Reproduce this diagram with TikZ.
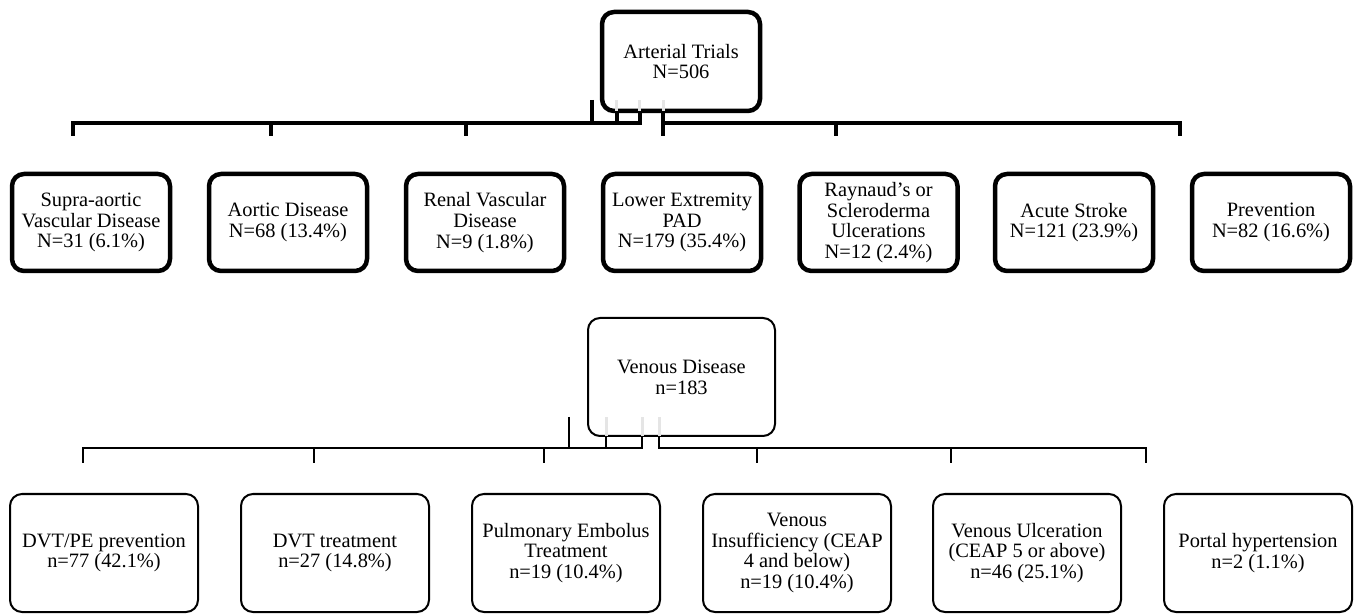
\documentclass[tikz,border=0pt]{standalone}
\usepackage{fontspec}
\setmainfont{Liberation Serif}
\usepackage{tikz}

\begin{document}
\begin{tikzpicture}[x=0.5pt,y=-0.5pt,
    font=\fontsize{10.2}{10.4}\selectfont,
    artbox/.style={draw, line width=2.25pt, rounded corners=6pt, align=center,
      minimum width=79pt, minimum height=48.5pt, inner sep=0pt},
    venbox/.style={draw, line width=1pt, rounded corners=6pt, align=center,
      minimum width=94pt, minimum height=59pt, inner sep=0pt},
    artline/.style={line width=2.25pt},
    venline/.style={line width=1pt},
    ghost/.style={gray!20, line width=1.5pt}]
      \useasboundingbox (0,0) rectangle (1360,614);

      \node[artbox, minimum height=49.5pt](art) at (681, 61.5){Arterial Trials\\N=506};

      \node[artbox](supra) at (91, 222.5){Supra-aortic\\Vascular Disease\\N=31 (6.1\%)};
      \node[artbox](aortic) at (288, 222.5){Aortic Disease\\N=68 (13.4\%)};
      \node[artbox](renal) at (485, 222.5){Renal Vascular\\Disease\\N=9 (1.8\%)};
      \node[artbox](pad) at (682, 222.5){Lower Extremity\\PAD\\N=179 (35.4\%)};
      \node[artbox](rayn) at (878.5, 222.5){Raynaud’s or\\Scleroderma\\Ulcerations\\N=12 (2.4\%)};
      \node[artbox](stroke) at (1074, 222.5){Acute Stroke\\N=121 (23.9\%)};
      \node[artbox](prev) at (1271, 222.5){Prevention\\N=82 (16.6\%)};

      \coordinate (a1) at (73, 136);
      \coordinate (a2) at (271, 136);
      \coordinate (a3) at (466, 136);
      \coordinate (a4) at (663, 136);
      \coordinate (a5) at (836, 136);
      \coordinate (a6) at (1180, 136);
      \coordinate (abus) at (640, 123);
      \coordinate (aleg) at (617, 123);
      \coordinate (astub) at (592, 100);

      \draw [ghost] (616, 100) -- (616, 111);
      \draw [ghost] (639, 100) -- (639, 111);
      \draw [ghost] (663, 100) -- (663, 111);

      \draw [artline] (a1) |- (abus) -- (abus |- art.south);
      \draw [artline] (aleg) -- (aleg |- art.south);
      \draw [artline] (astub) -- (astub |- abus);
      \draw [artline] (a4 |- art.south) -- (a4);
      \draw [artline] (a4 |- abus) -| (a6);
      \draw [artline] (a2) -- (a2 |- abus);
      \draw [artline] (a3) -- (a3 |- abus);
      \draw [artline] (a5) -- (a5 |- abus);

      \node[venbox, minimum width=93.5pt](ven) at (681.5, 377){Venous Disease\\n=183};

      \node[venbox](dvtpe) at (104, 553){DVT/PE prevention\\n=77 (42.1\%)};
      \node[venbox](dvt) at (335, 553){DVT treatment\\n=27 (14.8\%)};
      \node[venbox](pe) at (566, 553){Pulmonary Embolus\\Treatment\\n=19 (10.4\%)};
      \node[venbox](insuf) at (797, 553){Venous\\Insufficiency (CEAP\\4 and below)\\n=19 (10.4\%)};
      \node[venbox](ulcer) at (1027, 553){Venous Ulceration\\(CEAP 5 or above)\\n=46 (25.1\%)};
      \node[venbox](portal) at (1258, 553){Portal hypertension\\n=2 (1.1\%)};

      \coordinate (v1) at (83, 463);
      \coordinate (v2) at (314, 463);
      \coordinate (v3) at (544, 463);
      \coordinate (v4) at (757, 463);
      \coordinate (v5) at (951, 463);
      \coordinate (v6) at (1146, 463);
      \coordinate (vbus) at (642, 448);
      \coordinate (vleg) at (606, 448);
      \coordinate (vright) at (659, 448);
      \coordinate (vstub) at (569, 417);

      \draw [ghost] (606, 417) -- (606, 436);
      \draw [ghost] (642, 417) -- (642, 436);
      \draw [ghost] (659, 417) -- (659, 436);

      \draw [venline] (v1) |- (vbus) -- (vbus |- ven.south);
      \draw [venline] (vleg) -- (vleg |- ven.south);
      \draw [venline] (vstub) -- (vstub |- vbus);
      \draw [venline] (vright |- ven.south) -- (vright) -| (v6);
      \draw [venline] (v2) -- (v2 |- vbus);
      \draw [venline] (v3) -- (v3 |- vbus);
      \draw [venline] (v4) -- (v4 |- vbus);
      \draw [venline] (v5) -- (v5 |- vbus);
\end{tikzpicture}
\end{document}
